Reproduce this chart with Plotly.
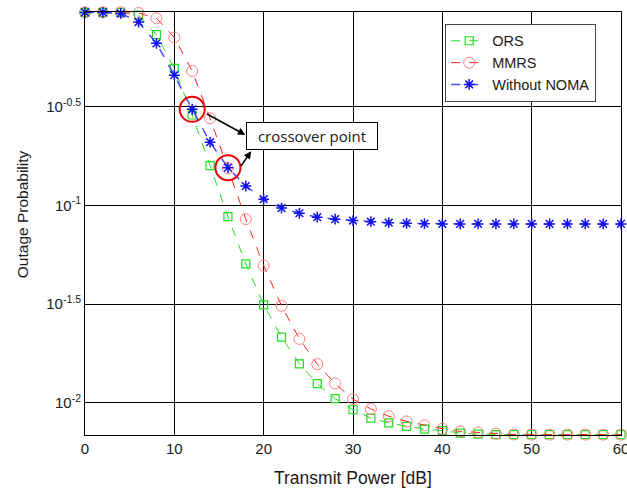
import numpy as np
import plotly.graph_objects as go

# Transmit power grid [dB]
power_db = list(range(0, 62, 2))

# Outage probability, stored as log10 values
ors_log = [-0.022, -0.022, -0.022, -0.036, -0.135, -0.306, -0.542, -0.799, -1.057,
           -1.297, -1.504, -1.668, -1.803, -1.904, -1.980, -2.036, -2.078, -2.103,
           -2.120, -2.134, -2.142, -2.154, -2.160, -2.162, -2.162, -2.162, -2.162,
           -2.162, -2.162, -2.162, -2.162]
mmrs_log = [-0.022, -0.022, -0.022, -0.025, -0.052, -0.149, -0.319, -0.559, -0.812,
            -1.070, -1.305, -1.509, -1.677, -1.805, -1.903, -1.982, -2.032, -2.069,
            -2.095, -2.115, -2.132, -2.146, -2.151, -2.157, -2.161, -2.162, -2.162,
            -2.162, -2.162, -2.162, -2.162]
noma_log = [-0.022, -0.022, -0.027, -0.071, -0.179, -0.340, -0.513, -0.680, -0.809,
            -0.902, -0.969, -1.014, -1.040, -1.060, -1.070, -1.077, -1.083, -1.088,
            -1.091, -1.093, -1.094, -1.094, -1.094, -1.094, -1.094, -1.094, -1.094,
            -1.094, -1.094, -1.094, -1.094]

ors = [10 ** v for v in ors_log]
mmrs = [10 ** v for v in mmrs_log]
noma = [10 ** v for v in noma_log]

# Powers at which the proposed schemes cross the baseline
crossover_db = [12, 16]

ytick_exp = [-2, -1.5, -1, -0.5]
ytick_text = ["10<sup>-2</sup>", "10<sup>-1.5</sup>", "10<sup>-1</sup>", "10<sup>-0.5</sup>"]
xtick_vals = [0, 10, 20, 30, 40, 50, 60]

TXT = "#1a1a1a"

fig = go.Figure()

fig.add_trace(go.Scatter(
    x=power_db, y=ors, name="ORS", mode="lines+markers", cliponaxis=False,
    line=dict(color="#22dd22", width=1, dash="dash"),
    marker=dict(symbol="square-open", size=8, color="#22dd22", line=dict(width=1.2))))
fig.add_trace(go.Scatter(
    x=power_db, y=mmrs, name="MMRS", mode="lines+markers", cliponaxis=False,
    line=dict(color="#ff2020", width=1, dash="dash"),
    marker=dict(symbol="circle-open", size=11, color="#ff8080", line=dict(width=1))))
fig.add_trace(go.Scatter(
    x=power_db, y=noma, name="Without NOMA", mode="lines+markers", cliponaxis=False,
    line=dict(color="#4848ff", width=1.5, dash="dash"),
    marker=dict(symbol="asterisk-open", size=9, color="#1010ee", line=dict(width=1.5, color="#1010ee"))))

# Circles highlighting the crossover points on the baseline curve
cross_y = [noma[power_db.index(p)] for p in crossover_db]
fig.add_trace(go.Scatter(
    x=crossover_db, y=cross_y, mode="markers", showlegend=False, cliponaxis=False,
    marker=dict(symbol="circle-open", size=25, color="#ee0000", line=dict(width=2, color="#ee0000"))))

arrow = dict(xref="x", yref="y", axref="x", ayref="y", text="", showarrow=True,
             arrowhead=2, arrowsize=1, arrowwidth=1.5, arrowcolor="black")
fig.add_annotation(x=17.95, y=-0.643, ax=13.5, ay=-0.533, **arrow)
fig.add_annotation(x=18.6, y=-0.726, ax=17.35, ay=-0.808, **arrow)
fig.add_annotation(x=25.36, y=-0.648, xref="x", yref="y", text="crossover point",
                   showarrow=False, bgcolor="white", bordercolor="black", borderwidth=1,
                   borderpad=2, width=126, height=22,
                   font=dict(family="Open Sans", size=15, color=TXT))

# Axis titles
fig.add_annotation(x=0.5, y=-0.1017, xref="paper", yref="paper", showarrow=False,
                   text="Transmit Power [dB]", xanchor="center", yanchor="middle",
                   font=dict(family="Liberation Sans", size=17.5, color=TXT))
fig.add_annotation(x=-0.1175, y=0.522, xref="paper", yref="paper", showarrow=False,
                   text="Outage Probability", textangle=-90, xanchor="center", yanchor="middle",
                   font=dict(family="Liberation Sans", size=15.5, color=TXT))

axis_common = dict(showline=True, linecolor="black", linewidth=1, mirror=True,
                   showgrid=True, gridcolor="black", gridwidth=1, zeroline=False,
                   automargin=False, ticks="",
                   tickfont=dict(family="Liberation Sans", size=15, color=TXT))

fig.update_xaxes(range=[0, 60], tickvals=xtick_vals, ticklabeloverflow="allow", **axis_common)
fig.update_yaxes(type="log", range=[-2.164, -0.02],
                 tickvals=[10 ** e for e in ytick_exp], ticktext=ytick_text, **axis_common)

fig.update_layout(
    width=627, height=488,
    margin=dict(l=85, r=6, t=12, b=53),
    plot_bgcolor="white", paper_bgcolor="white",
    legend=dict(x=0.672, y=0.972, xanchor="left", yanchor="top",
                bgcolor="white", bordercolor="#444444", borderwidth=1,
                itemwidth=36,
                font=dict(family="Liberation Sans", size=14.5, color=TXT),
                tracegroupgap=0),
)

fig.write_html("out.html")
